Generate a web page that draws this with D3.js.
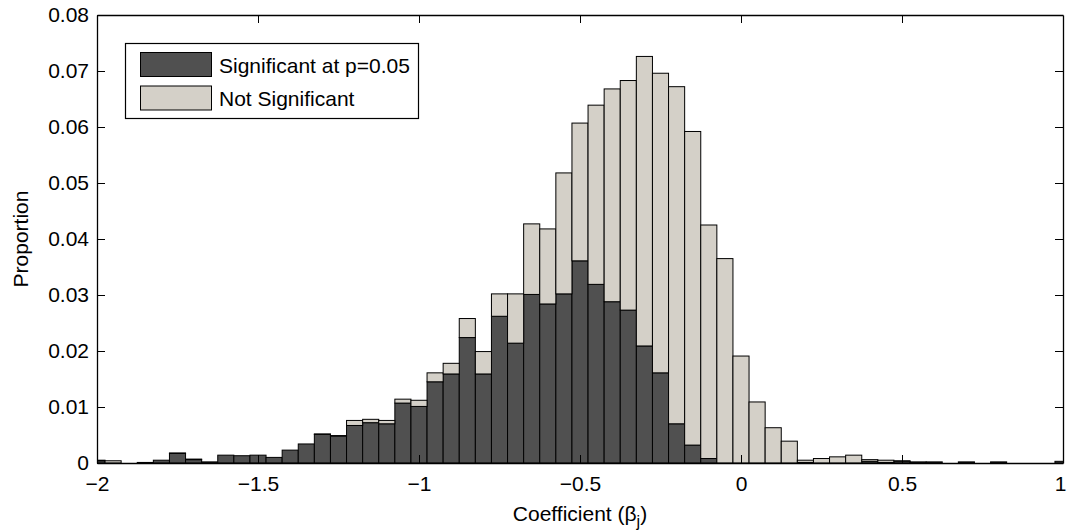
<!DOCTYPE html>
<meta charset="utf-8">
<head>
<title>Coefficient histogram</title>
<script type="text/javascript" src="https://cdn.jsdelivr.net/npm/d3@7/dist/d3.min.js"></script>
<style>
    body { margin: 0; background: #fff; }
    text { font-family: "Liberation Sans", Arial, sans-serif; fill: #000; }
</style>
</head>
<body>
<div id="chart"></div>
<script>
    // bin centres (width 0.05)
    var binCenters = [-2, -1.95, -1.9, -1.85, -1.8, -1.75, -1.7, -1.65, -1.6, -1.55,
                      -1.5, -1.45, -1.4, -1.35, -1.3, -1.25, -1.2, -1.15, -1.1, -1.05,
                      -1, -0.95, -0.9, -0.85, -0.8, -0.75, -0.7, -0.65, -0.6, -0.55,
                      -0.5, -0.45, -0.4, -0.35, -0.3, -0.25, -0.2, -0.15, -0.1, -0.05,
                      0, 0.05, 0.1, 0.15, 0.2, 0.25, 0.3, 0.35, 0.4, 0.45,
                      0.5, 0.55, 0.6, 0.65, 0.7, 0.75, 0.8, 0.85, 0.9, 0.95, 1];

    // proportion significant at p=0.05
    var significant = [0.0004, 0, 0, 0.0001, 0.0005, 0.0017, 0.0006, 0.0002, 0.0014, 0.0013,
                       0.0014, 0.0010, 0.0023, 0.0034, 0.0051, 0.0048, 0.0067, 0.0072, 0.0070, 0.0107,
                       0.0101, 0.0145, 0.0159, 0.0224, 0.0159, 0.0262, 0.0214, 0.0301, 0.0284, 0.0302,
                       0.0361, 0.0319, 0.0288, 0.0273, 0.0209, 0.0161, 0.0070, 0.0032, 0.0008, 0,
                       0, 0, 0, 0, 0.0001, 0, 0, 0, 0.0003, 0.0001,
                       0.0003, 0.0002, 0.0002, 0, 0.0002, 0, 0.0002, 0, 0, 0, 0.0003];

    // proportion not significant (stacked on top)
    var notSignificant = [0.0001, 0.0004, 0, 0, 0, 0.0001, 0.0001, 0, 0, 0,
                          0, 0, 0, 0, 0.0001, 0.0001, 0.0009, 0.0006, 0.0006, 0.0007,
                          0.0011, 0.0016, 0.0019, 0.0034, 0.0040, 0.0040, 0.0088, 0.0126, 0.0134, 0.0216,
                          0.0246, 0.0320, 0.0380, 0.0410, 0.0517, 0.0535, 0.0602, 0.0560, 0.0417, 0.0365,
                          0.0191, 0.0109, 0.0063, 0.0039, 0.0004, 0.0008, 0.0011, 0.0014, 0.0003, 0.0004,
                          0.0001, 0, 0, 0, 0, 0, 0, 0, 0, 0, 0];

    var xTicks = [-2, -1.5, -1, -0.5, 0, 0.5, 1];
    var yTicks = [0, 0.01, 0.02, 0.03, 0.04, 0.05, 0.06, 0.07, 0.08];
    var seriesNames = ["Significant at p=0.05", "Not Significant"];
    var seriesColors = ["#505050", "#d4d0c8"];

    var binWidth = 0.05;
    var width = 1067, height = 531;
    var margin = {top: 15, right: 4, bottom: 68, left: 97};
    var fontSize = "21px";

    var svg = d3.select("#chart").append("svg")
                .attr("width", width)
                .attr("height", height);

    var x = d3.scaleLinear().domain([-2, 1]).range([margin.left, width - margin.right]);
    var y = d3.scaleLinear().domain([0, 0.08]).range([height - margin.bottom, margin.top]);

    svg.append("clipPath").attr("id", "plotclip")
       .append("rect")
       .attr("x", x(-2)).attr("y", y(0.08))
       .attr("width", x(1) - x(-2)).attr("height", y(0) - y(0.08));

    var rows = binCenters.map(function (c, i) {
        return {c: c, sig: significant[i], non: notSignificant[i]};
    });
    var stacked = d3.stack().keys(["sig", "non"])(rows);

    var bars = svg.append("g").attr("clip-path", "url(#plotclip)");
    stacked.forEach(function (layer, li) {
        bars.append("g").selectAll("rect")
            .data(layer.filter(function (d) { return d[1] - d[0] > 0; }))
            .enter().append("rect")
            .attr("x", function (d) { return x(d.data.c - binWidth / 2); })
            .attr("width", function (d) { return x(d.data.c + binWidth / 2) - x(d.data.c - binWidth / 2); })
            .attr("y", function (d) { return y(d[1]); })
            .attr("height", function (d) { return y(d[0]) - y(d[1]); })
            .attr("fill", seriesColors[li])
            .attr("stroke", "#000")
            .attr("stroke-width", 1);
    });

    // axes box with inward ticks on every side (matlab style)
    var fmtX = function (d) { return d === 0 ? "0" : String(d).replace("-", "\u2212"); };
    var fmtY = function (d) { return d === 0 ? "0" : d.toFixed(2); };
    var tickLen = 8;

    var axBottom = svg.append("g").attr("transform", "translate(0," + y(0) + ")")
                      .call(d3.axisBottom(x).tickValues(xTicks).tickFormat(fmtX)
                            .tickSizeInner(-tickLen).tickSizeOuter(0).tickPadding(13));
    var axTop = svg.append("g").attr("transform", "translate(0," + y(0.08) + ")")
                   .call(d3.axisTop(x).tickValues(xTicks).tickFormat("")
                         .tickSizeInner(-tickLen).tickSizeOuter(0));
    var axLeft = svg.append("g").attr("transform", "translate(" + x(-2) + ",0)")
                    .call(d3.axisLeft(y).tickValues(yTicks).tickFormat(fmtY)
                          .tickSizeInner(-tickLen).tickSizeOuter(0).tickPadding(8));
    var axRight = svg.append("g").attr("transform", "translate(" + x(1) + ",0)")
                     .call(d3.axisRight(y).tickValues(yTicks).tickFormat("")
                           .tickSizeInner(-tickLen).tickSizeOuter(0));

    [axBottom, axTop, axLeft, axRight].forEach(function (g) {
        g.selectAll("path.domain").attr("stroke", "#000").attr("stroke-width", 1.3);
        g.selectAll(".tick line").attr("stroke", "#000").attr("stroke-width", 1);
        g.selectAll(".tick text").style("font-size", fontSize)
         .style("font-family", "'Liberation Sans', Arial, sans-serif").attr("fill", "#000");
    });
    // the "1" sits right on the window edge, nudge it in
    axBottom.selectAll(".tick text").filter(function (d) { return d === 1; }).attr("dx", -3);
    // no tick lines at the corners
    axBottom.selectAll(".tick line").filter(function (d) { return d === -2 || d === 1; }).remove();
    axTop.selectAll(".tick line").filter(function (d) { return d === -2 || d === 1; }).remove();

    // axis labels
    var xl = svg.append("text")
                .attr("x", (x(-2) + x(1)) / 2)
                .attr("y", 521)
                .attr("text-anchor", "middle")
                .style("font-size", fontSize);
    xl.append("tspan").text("Coefficient (\u03b2");
    xl.append("tspan").attr("dy", 6).style("font-size", "16px").text("j");
    xl.append("tspan").attr("dy", -6).text(")");

    svg.append("text")
       .attr("transform", "translate(28," + (y(0.04)) + ") rotate(-90)")
       .attr("text-anchor", "middle")
       .style("font-size", fontSize)
       .text("Proportion");

    // legend
    var legend = svg.append("g");
    legend.append("rect")
          .attr("x", 125.5).attr("y", 43.5)
          .attr("width", 293).attr("height", 75)
          .attr("fill", "#fff").attr("stroke", "#000").attr("stroke-width", 1.2);
    seriesNames.forEach(function (name, i) {
        legend.append("rect")
              .attr("x", 140.5).attr("y", 52.5 + i * 33.5)
              .attr("width", 71).attr("height", 24)
              .attr("fill", seriesColors[i]).attr("stroke", "#000").attr("stroke-width", 1);
        legend.append("text")
              .attr("x", 219).attr("y", 72.5 + i * 33.5)
              .style("font-size", fontSize)
              .text(name);
    });
</script>
</body>
</html>
